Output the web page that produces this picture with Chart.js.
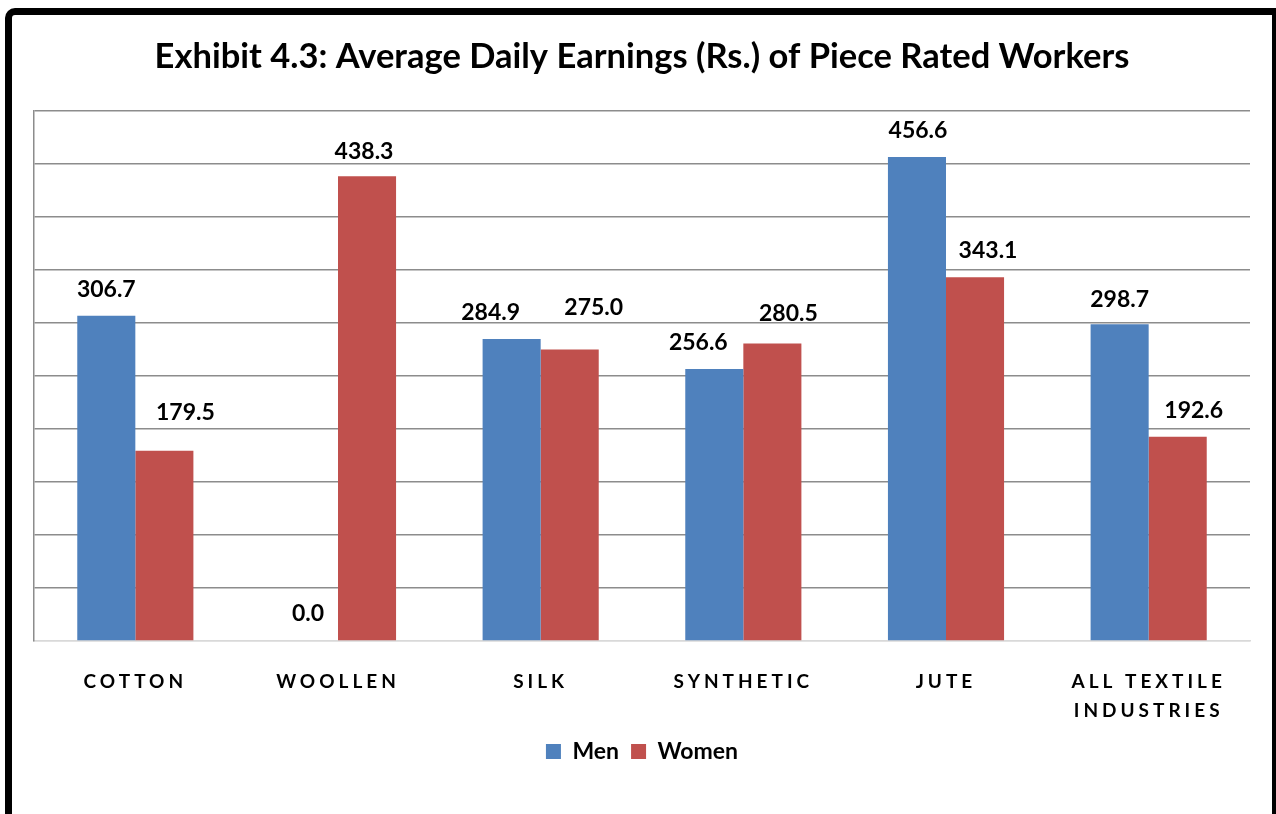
<!DOCTYPE html>
<html>
<head>
<meta charset="utf-8">
<script src="https://cdn.jsdelivr.net/npm/chart.js@4.4.1/dist/chart.umd.min.js"></script>
<style>
  html, body { margin: 0; padding: 0; background: #fff; overflow: hidden; }
  body { width: 1276px; height: 814px; position: relative; }
  .frame {
    position: absolute; left: 5px; top: 8px; width: 1260px; height: 900px;
    border: 7px solid #000; border-bottom: none; border-top-left-radius: 10px;
  }
  #wrap { position: absolute; left: 0; top: 0; width: 1276px; height: 814px; }
</style>
</head>
<body>
<div class="frame"></div>
<div id="wrap"><canvas id="chart"></canvas></div>
<script>
const categories = ['COTTON', 'WOOLLEN', 'SILK', 'SYNTHETIC', 'JUTE', ['ALL TEXTILE', 'INDUSTRIES']];
const menValues = [306.7, 0.0, 284.9, 256.6, 456.6, 298.7];
const womenValues = [179.5, 438.3, 275.0, 280.5, 343.1, 192.6];
const titleText = 'Exhibit 4.3: Average Daily Earnings (Rs.) of Piece Rated Workers';

const FONT = 'Lato, "Open Sans", sans-serif';

// hand-placed label nudges as in the original (px, [dx, dy]) per dataset
const labelNudge = [
  [[0, 0], [-1, -1], [-21, 0], [-16, 0], [1, 0], [0, 1]],
  [[21, -12], [-3, 1], [24, -16], [16, -4], [13, -1], [16, 0]]
];

// value labels above each bar
const valueLabels = {
  id: 'valueLabels',
  afterDatasetsDraw(chart) {
    const ctx = chart.ctx;
    ctx.save();
    ctx.font = 'bold 23px ' + FONT;
    ctx.fillStyle = '#000';
    ctx.textAlign = 'center';
    ctx.textBaseline = 'middle';
    chart.data.datasets.forEach((ds, i) => {
      chart.getDatasetMeta(i).data.forEach((bar, j) => {
        const [dx, dy] = labelNudge[i][j];
        ctx.fillText(ds.data[j].toFixed(1), bar.x + dx, bar.y - 26 + dy);
      });
    });
    ctx.restore();
    // x tick labels are drawn after this (ticks z: 1), give them letter spacing
    ctx.letterSpacing = '4px';
  },
  afterDraw(chart) {
    chart.ctx.letterSpacing = '0px';
  }
};

new Chart(document.getElementById('chart'), {
  type: 'bar',
  data: {
    labels: categories,
    datasets: [{
      label: 'Men',
      data: menValues,
      backgroundColor: '#4F81BD'
    }, {
      label: 'Women',
      data: womenValues,
      backgroundColor: '#C0504D'
    }]
  },
  options: {
    responsive: true,
    maintainAspectRatio: false,
    animation: false,
    categoryPercentage: 0.573,
    barPercentage: 1,
    layout: {
      padding: { left: 34, right: 26, top: 0, bottom: 41 }
    },
    plugins: {
      title: {
        display: true,
        text: titleText,
        color: '#000',
        font: { family: FONT, size: 34.5, weight: 'bold' },
        padding: { top: 36, bottom: 33.5 }
      },
      legend: {
        position: 'bottom',
        labels: {
          color: '#000',
          font: { family: FONT, size: 23, weight: 'bold' },
          boxWidth: 15,
          boxHeight: 15,
          padding: 12
        }
      },
      tooltip: { enabled: false }
    },
    scales: {
      x: {
        grid: { display: false },
        border: { color: '#d9d9d9', width: 1.5 },
        ticks: {
          z: 1,
          color: '#000',
          font: { family: FONT, size: 19, weight: 'bold', lineHeight: 1.55 },
          padding: 18,
          maxRotation: 0
        },
        afterFit: scale => { scale.height = 87; }
      },
      y: {
        min: 0,
        max: 500,
        ticks: { display: false, stepSize: 50 },
        grid: {
          drawTicks: false,
          lineWidth: 1.5,
          color: ctx => ctx.tick && ctx.tick.value === 0 ? '#d9d9d9' : '#8c8c8c'
        },
        border: { color: '#8c8c8c', width: 1.5 }
      }
    }
  },
  plugins: [valueLabels]
});
</script>
</body>
</html>
